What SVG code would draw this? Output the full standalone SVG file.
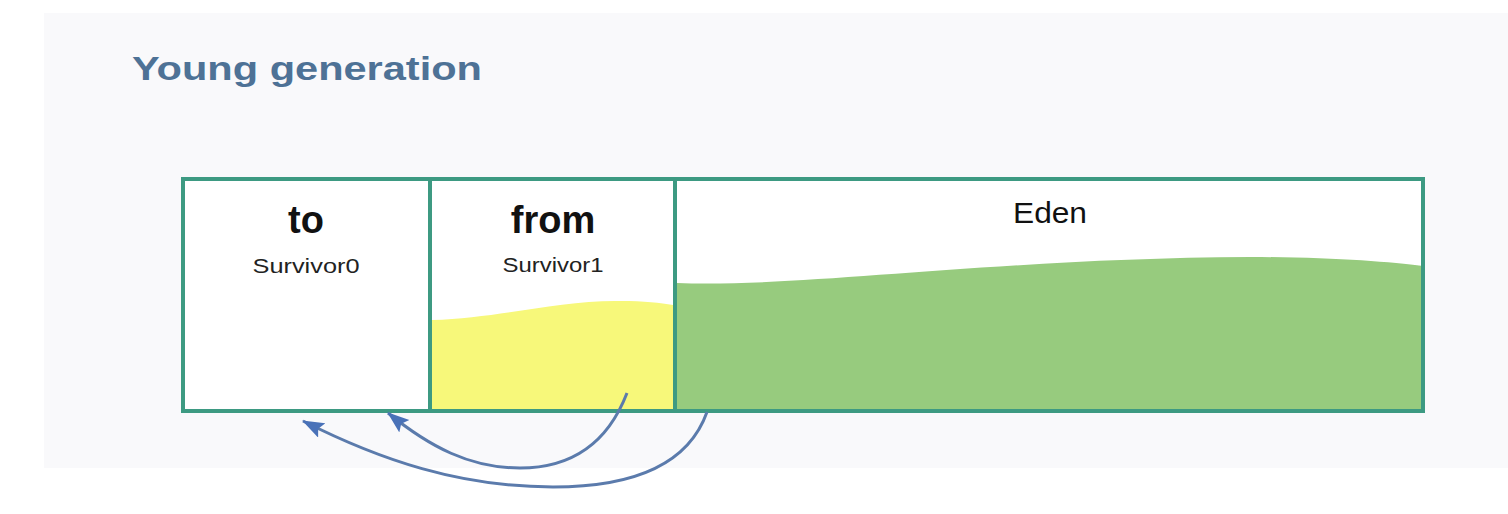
<svg xmlns="http://www.w3.org/2000/svg" width="1508" height="514" viewBox="0 0 1508 514">
  <defs>
    <style>
      .box { fill: #ffffff; stroke: #3d9a82; stroke-width: 4; }
      .div { stroke: #3d9a82; stroke-width: 4; fill: none; }
      .big { font-family: "Liberation Sans", Arial, sans-serif; font-weight: bold; font-size: 38px; fill: #111111; text-anchor: middle; }
      .sub { font-family: "Liberation Sans", Arial, sans-serif; font-size: 21px; fill: #222222; text-anchor: middle; }
      .eden { font-family: "Liberation Sans", Arial, sans-serif; font-size: 29px; fill: #111111; text-anchor: middle; }
      .title { font-family: "Liberation Sans", Arial, sans-serif; font-weight: bold; font-size: 33px; fill: #4e7296; }
      .arrow { fill: none; stroke: #5b7bac; stroke-width: 3; marker-end: url(#ah); }
    </style>
    <marker id="ah" markerUnits="userSpaceOnUse" markerWidth="24" markerHeight="18" refX="21" refY="8" orient="auto">
      <path d="M0,0 L22,8 L0,16 L4,8 Z" fill="#4a72b8"/>
    </marker>
  </defs>

  <rect x="0" y="0" width="1508" height="514" fill="#ffffff"/>
  <rect id="panel" x="44" y="13" width="1464" height="455" fill="#f9f9fb"/>

  <text id="title" class="title" x="132" y="80" textLength="350" lengthAdjust="spacingAndGlyphs">Young generation</text>

  <g id="young-gen">
    <rect class="box" x="183" y="179" width="1240" height="232"/>
  </g>

  <g id="from-survivor1">
    <path d="M432,320 C500,318 560,300 620,301 C645,301 660,303 673,305 L673,411 L432,411 Z" fill="#f7f87a"/>
    <text class="big" x="553" y="233">from</text>
    <text class="sub" x="553" y="272" textLength="101" lengthAdjust="spacingAndGlyphs">Survivor1</text>
  </g>

  <g id="eden">
    <path d="M677,283 C800,288 1000,258 1250,257 C1330,257 1390,262 1423,266 L1423,411 L677,411 Z" fill="#97cb7e"/>
    <text class="eden" x="1050" y="223" textLength="74" lengthAdjust="spacingAndGlyphs">Eden</text>
  </g>

  <g id="to-survivor0">
    <text class="big" x="306" y="233">to</text>
    <text class="sub" x="306" y="273" textLength="107" lengthAdjust="spacingAndGlyphs">Survivor0</text>
  </g>

  <g id="frame">
    <rect x="183" y="179" width="1240" height="232" fill="none" stroke="#3d9a82" stroke-width="4"/>
    <line class="div" x1="430" y1="179" x2="430" y2="411"/>
    <line class="div" x1="675" y1="179" x2="675" y2="411"/>
  </g>

  <g id="connectors">
    <path class="arrow" d="M627,393 C605,450 565,468 520,468 C470,468 430,447 388,413"/>
    <path class="arrow" d="M707,412 C690,460 640,487 553,487 C460,487 380,460 303,421"/>
  </g>
</svg>
